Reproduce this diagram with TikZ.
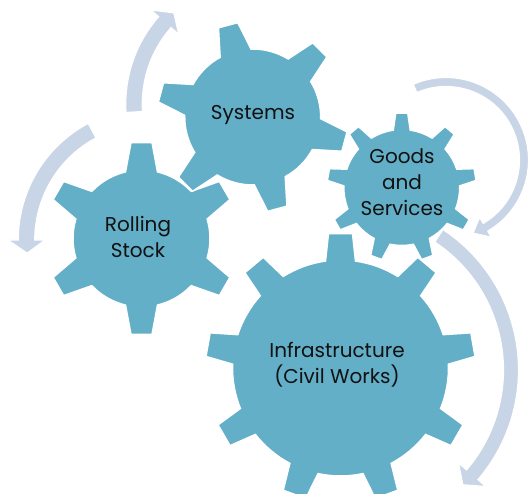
\documentclass[tikz,border=0pt]{standalone}
\usepackage{fontspec}
\setmainfont{Poppins}
\definecolor{gearblue}{HTML}{63AFC8}
\definecolor{arrowgray}{HTML}{C8D5E6}
\definecolor{labeltext}{HTML}{111111}
\tikzset{
  gearstyle/.style={fill=gearblue, draw=white, line width=1.5pt, line join=miter},
  arrowstyle/.style={fill=arrowgray, draw=white, line width=1.2pt},
  gearlabel/.style={text=labeltext, align=center, font=\fontsize{20}{26}\selectfont, inner sep=0pt}
}
% #1 cx, #2 cy (image px, y down), #3 teeth, #4 first tooth angle, #5 body radius, #6 tooth radius, #7 outer half width, #8 base half width
\newcommand\mygear[8]{%
  \pgfmathsetmacro\gstep{360/#3}%
  \pgfmathsetmacro\gbi{asin(#8/#5)}%
  \pgfmathsetmacro\gbo{atan(#7/#6)}%
  \pgfmathsetmacro\gRo{veclen(#6,#7)}%
  \pgfmathtruncatemacro\glast{#3-1}%
  \begin{scope}[shift={(#1,-#2)}]
  \path[gearstyle] ({#4-\gbi}:#5)
    \foreach \k in {0,...,\glast}{
      -- ({#4+\gstep*\k-\gbi}:#5) -- ({#4+\gstep*\k-\gbo}:\gRo)
      -- ({#4+\gstep*\k+\gbo}:\gRo) -- ({#4+\gstep*\k+\gbi}:#5)
      arc[start angle={#4+\gstep*\k+\gbi}, end angle={#4+\gstep*(\k+1)-\gbi}, radius=#5]
    } -- cycle;
  \end{scope}}
% #1 cx, #2 cy, #3 radius, #4 tail angle, #5 head base angle, #6 tip angle, #7 band width, #8 head half width
\newcommand\myarrow[8]{%
  \pgfmathsetmacro\aro{#3+#7/2}%
  \pgfmathsetmacro\ari{#3-#7/2}%
  \pgfmathsetmacro\aho{#3+#8}%
  \pgfmathsetmacro\ahi{#3-#8}%
  \begin{scope}[shift={(#1,-#2)}]
  \path[arrowstyle] (#4:\aro)
    arc[start angle=#4, end angle=#5, radius=\aro]
    -- (#5:\aho) -- (#6:#3) -- (#5:\ahi) -- (#5:\ari)
    arc[start angle=#5, end angle=#4, radius=\ari] -- cycle;
  \end{scope}}
\begin{document}
\begin{tikzpicture}[x=1pt,y=1pt]
\useasboundingbox (0,0) rectangle (530,-494);
\clip (0,0) rectangle (530,-494);
% gears
\mygear{141.5}{238.5}{6}{30}{68.5}{96}{10.5}{16}
\mygear{252.7}{117}{6}{-15}{68}{95}{10}{16}
\mygear{340.5}{368}{9}{10}{108}{134.5}{12}{15}
\mygear{401.75}{187.5}{9}{10}{58}{74.5}{6}{8.5}
% arrows
\myarrow{258}{104}{124}{183.7}{138.7}{132.7}{16.5}{18.5}
\myarrow{150.5}{240}{124}{118.1}{180}{186.1}{16.5}{18.5}
\myarrow{446}{160}{78}{113.4}{-59.6}{-69.7}{9}{11.5}
\myarrow{350}{370}{161}{56.5}{-40.6}{-45.5}{15}{18}
% labels
\node[gearlabel] (sys) at (253,-115) {Systems};
\node[gearlabel] (rs) at (138,-237) {Rolling\\Stock};
\node[gearlabel] (gs) at (402,-182) {Goods\\and\\Services};
\node[gearlabel] (inf) at (337,-365) {Infrastructure\\(Civil Works)};
\end{tikzpicture}
\end{document}
